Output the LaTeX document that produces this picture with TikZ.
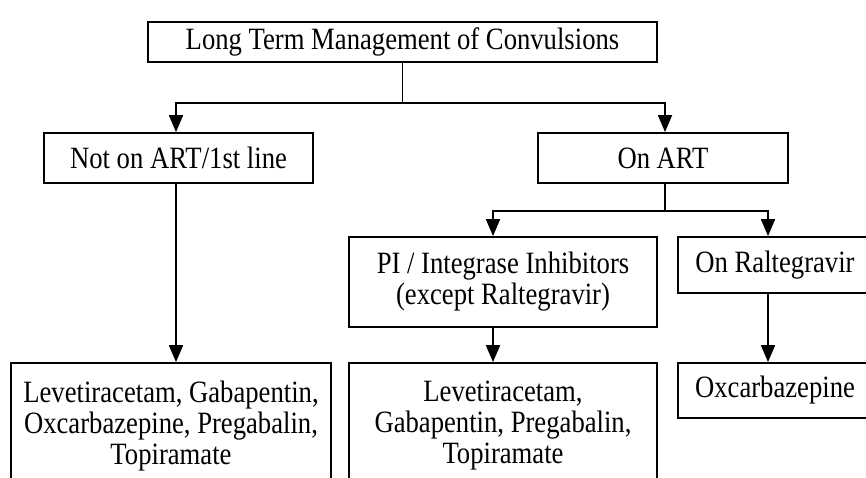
\documentclass[tikz,border=0pt]{standalone}
\usepackage{fontspec}
\setmainfont{Liberation Serif}[FakeStretch=0.86]
\usetikzlibrary{arrows.meta}
\begin{document}
\begin{tikzpicture}[x=1pt,y=-1pt,
  box/.style={draw=black, line width=1.8pt, inner sep=0pt, align=center,
    font=\fontsize{31}{31}\selectfont},
  ln/.style={draw=black, line width=1.8pt},
  arr/.style={ln, -{Triangle[length=17pt,width=14pt]}}]
\clip (0,0) rectangle (866,477);
\fill[white] (0,0) rectangle (866,477);
% boxes
\node[box, minimum width=509, minimum height=40] (top) at (402.5,42) {Long Term Management of Convulsions};
\node[box, minimum width=269, minimum height=50] (notart) at (178.5,158) {Not on ART/1st line};
\node[box, minimum width=250, minimum height=50] (onart) at (663,158) {On ART};
\node[box, minimum width=308, minimum height=90] (pi) at (503,282) {PI / Integrase Inhibitors\\(except Raltegravir)};
\node[box, minimum width=194, minimum height=56] (ral) at (775,265) {On Raltegravir};
\node[box, minimum width=320, minimum height=126] (bl) at (171,426) {Levetiracetam, Gabapentin,\\Oxcarbazepine, Pregabalin,\\Topiramate};
\node[box, minimum width=308, minimum height=126] (bm) at (503,426) {Levetiracetam,\\Gabapentin, Pregabalin,\\Topiramate};
\node[box, minimum width=194, minimum height=55] (br) at (775,390.5) {Oxcarbazepine};
% connector positions
\coordinate (xl) at (176,0);
\coordinate (xr) at (665,0);
\coordinate (xm) at (493,0);
\coordinate (xo) at (768,0);
\coordinate (j1) at (402.5,103);
\coordinate (j2) at (665,211);
% connectors
\draw[ln] (top.south) -- (j1);
\draw[arr] (j1) -| (notart.north -| xl);
\draw[arr] (j1) -| (onart.north -| xr);
\draw[ln] (onart.south -| xr) -- (j2);
\draw[arr] (j2) -| (pi.north -| xm);
\draw[arr] (j2) -| (ral.north -| xo);
\draw[arr] (notart.south -| xl) -- (bl.north -| xl);
\draw[arr] (pi.south -| xm) -- (bm.north -| xm);
\draw[arr] (ral.south -| xo) -- (br.north -| xo);
\end{tikzpicture}
\end{document}
